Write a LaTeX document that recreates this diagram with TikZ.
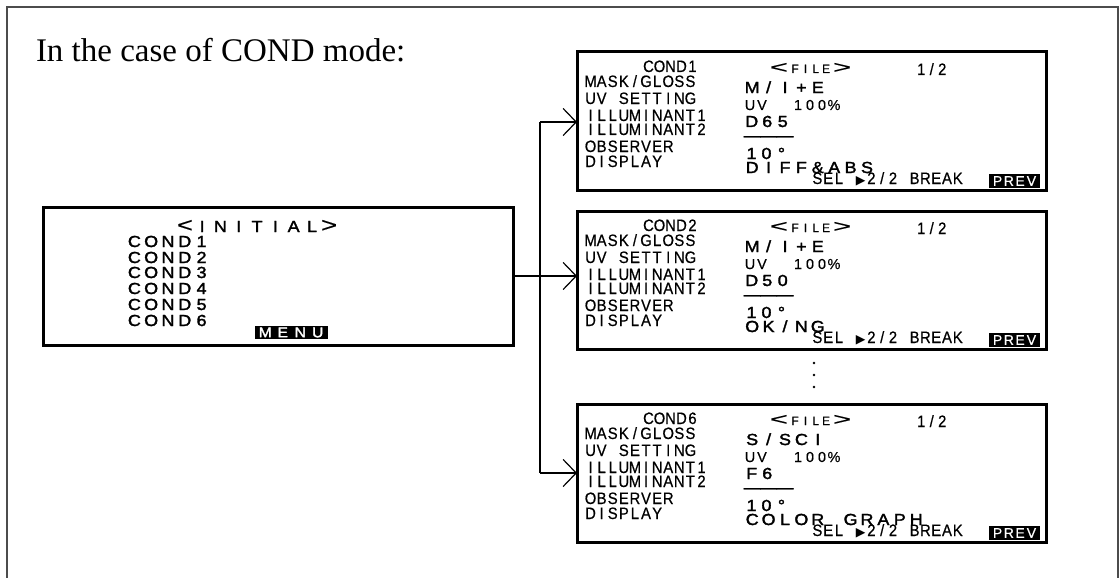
\documentclass[tikz,border=0pt]{standalone}
\usepackage{fontspec}
\setmainfont{Liberation Serif}
\newfontfamily\lcdN[FakeStretch=0.9,FakeBold=0.5]{Liberation Sans}
\newfontfamily\lcdP[FakeBold=0.4]{Liberation Sans}
\newfontfamily\lcdW[FakeStretch=1.12,FakeBold=2]{Liberation Sans}
\newfontfamily\symf{DejaVu Sans}
\usetikzlibrary{arrows.meta,calc}
\makeatletter
\def\lcd@q{\lcd@q}
\newcommand\lcdcells[2]{\def\lcd@w{#1}\lcd@loop#2\lcd@q}
\def\lcd@loop#1{\ifx#1\lcd@q\else\makebox[\lcd@w][c]{#1}\expandafter\lcd@loop\fi}
\makeatother
% font, size, cell width, text
\newcommand\lcd[4]{{#1\fontsize{#2}{#2}\selectfont\lcdcells{#3}{#4}}}
\newcommand\tri{{\symf\fontsize{12.5}{12.5}\selectfont ▶}}
\newcommand\lt[2]{\resizebox{#1}{#2}{\lcdP <}}
\newcommand\gt[2]{\resizebox{#1}{#2}{\lcdP >}}
\newcommand\screenbox[6]{%
  \node[scr, anchor=north west] (#1) at (577,#2) {};
  \begin{scope}[shift={(#1.north west)}]
    \node[txt, anchor=base east] (#1-cond) at (121,20) {\lcd\lcdN{16.5}{11pt}{#3}};
    \node[txt, anchor=base west] (#1-l1) at (8,35) {\lcd\lcdN{16.5}{11.1pt}{MASK/GLOSS}};
    \node[txt, anchor=base west] (#1-l2) at (8,52) {\lcd\lcdN{16.5}{11.1pt}{UV~SETTING}};
    \node[txt, anchor=base west] (#1-l3) at (8,69) {\lcd\lcdN{16.5}{11.1pt}{ILLUMINANT1}};
    \node[txt, anchor=base west] (#1-l4) at (8,83) {\lcd\lcdN{16.5}{11.1pt}{ILLUMINANT2}};
    \node[txt, anchor=base west] (#1-l5) at (8,100) {\lcd\lcdN{16.5}{11.1pt}{OBSERVER}};
    \node[txt, anchor=base west] (#1-l6) at (8,115) {\lcd\lcdN{16.5}{11.1pt}{DISPLAY}};
    \node[txt, anchor=base west] (#1-file) at (193,21)
      {\lt{18pt}{10pt}\hspace{2pt}\lcd\lcdP{12}{10.3pt}{FILE}\hspace{2pt}\gt{18pt}{10pt}};
    \node[txt, anchor=base west] (#1-page) at (339,23) {\lcd\lcdN{16.5}{10.5pt}{1/2}};
    \node[txt, anchor=base west] (#1-v1) at (167,41) {\lcd\lcdW{16}{16.4pt}{#4}};
    \node[txt, anchor=base west] (#1-v2) at (167,58) {\lcd\lcdP{14.5}{12pt}{UV~~100\%}};
    \node[txt, anchor=base west] (#1-v3) at (167,75) {\lcd\lcdW{16}{15.5pt}{#5}};
    \node[txt, anchor=base west] (#1-v4) at (167,89) {\lcd\lcdP{17}{16.4pt}{———}};
    \node[txt, anchor=base west] (#1-v5) at (167,107) {\lcd\lcdW{16}{15pt}{10°}};
    \node[txt, anchor=base west] (#1-v6) at (167,121) {\lcd\lcdW{16}{16.4pt}{#6}};
    \node[txt, anchor=base west] (#1-sel) at (235,132) {\lcd\lcdN{16.5}{10.8pt}{SEL~\tri2/2~BREAK}};
    \node[inv, minimum width=51pt, minimum height=14pt] (#1-prev) at (437.5,129)
      {\lcd\lcdP{14}{11.3pt}{PREV}};
  \end{scope}}
\begin{document}
\begin{tikzpicture}[x=1pt,y=-1pt,
  scr/.style={draw, line width=3pt, minimum width=469pt, minimum height=138pt, inner sep=0pt, outer sep=0pt},
  txt/.style={inner sep=0pt, outer sep=0pt},
  conn/.style={line width=1.3pt},
  arr/.style={conn, -{Straight Barb[length=13pt,width=27pt,line width=1.2pt]}},
  inv/.style={fill=black, text=white, inner sep=0pt, outer sep=0pt}
]
\useasboundingbox (0,0) rectangle (1120,578);
\draw[line width=1.5pt, black!70] (7,580) -- (7,7) -- (1118,7) -- (1118,580);

\node[txt, anchor=base west, font=\fontsize{33}{33}\selectfont] (title) at (36,62) {In the case of COND mode:};

% initial screen
\node[scr, minimum width=470pt, minimum height=138pt] (init) at (278,276) {};
\node[txt, anchor=base west] (ini-head) at (177,232)
  {\lt{16pt}{12pt}\lcd\lcdW{16}{18.3pt}{INITIAL}\gt{16pt}{12pt}};
\node[txt, anchor=base west] (ini-c1) at (126,247) {\lcd\lcdW{16}{16.8pt}{COND1}};
\node[txt, anchor=base west] (ini-c2) at (126,263) {\lcd\lcdW{16}{16.8pt}{COND2}};
\node[txt, anchor=base west] (ini-c3) at (126,278) {\lcd\lcdW{16}{16.8pt}{COND3}};
\node[txt, anchor=base west] (ini-c4) at (126,294) {\lcd\lcdW{16}{16.8pt}{COND4}};
\node[txt, anchor=base west] (ini-c5) at (126,310) {\lcd\lcdW{16}{16.8pt}{COND5}};
\node[txt, anchor=base west] (ini-c6) at (126,326) {\lcd\lcdW{16}{16.8pt}{COND6}};
\node[inv, minimum width=73pt, minimum height=13pt] (menu) at (291.5,332.5)
  {\lcd\lcdW{14}{17.5pt}{MENU}};

% condition screens
\screenbox{b1}{52}{COND1}{M/I+E}{D65}{DIFF\&ABS}
\screenbox{b2}{211}{COND2}{M/I+E}{D50}{OK/NG}
\screenbox{b3}{404}{COND6}{S/SCI}{F6}{COLOR~GRAPH}

% connectors
\coordinate (t1) at (540,122);
\coordinate (t3) at (540,473);
\draw[conn] (t1) -- (t3);
\draw[arr] (t1) -- (t1 -| b1.west);
\draw[arr] (init.east) -- (init.east -| b2.west);
\draw[arr] (t3) -- (t3 -| b3.west);

% continuation dots
\fill (814,363) circle (1.3pt);
\fill (814,375) circle (1.3pt);
\fill (814,387) circle (1.3pt);
\end{tikzpicture}
\end{document}
